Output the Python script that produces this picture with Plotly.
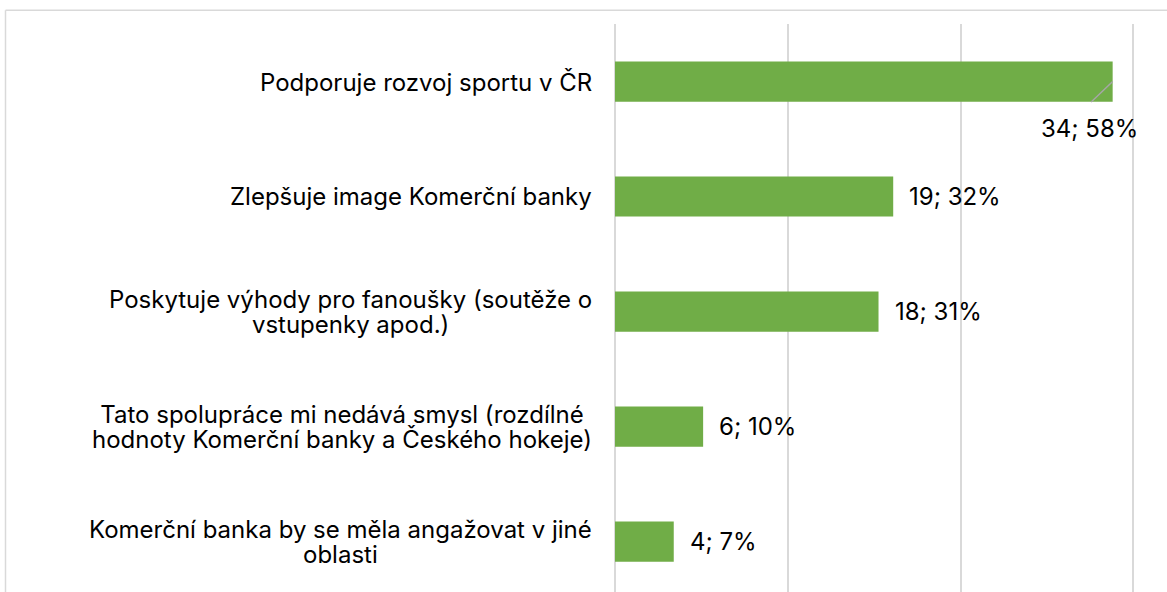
import plotly.graph_objects as go

categories = [
    "Podporuje rozvoj sportu v ČR",
    "Zlepšuje image Komerční banky",
    "Poskytuje výhody pro fanoušky (soutěže o<br>vstupenky apod.)",
    "Tato spolupráce mi nedává smysl (rozdílné<br>hodnoty Komerční banky a Českého hokeje)",
    "Komerční banka by se měla angažovat v jiné<br>oblasti",
]
counts = [34, 19, 18, 6, 4]
percent_values = [57.6, 32.2, 30.5, 10.2, 6.8]
percent_labels = [58, 32, 31, 10, 7]

GREEN = "#70AD47"
GRID = "#D9D9D9"
FONT = "Inter, Roboto, 'Open Sans', sans-serif"
FS = 24
LINE = 25  # line pitch of the wrapped category labels

W, H = 1167, 592
ML, MT = 615, 24
plot_w = W - ML
plot_h = H - MT

pos = list(range(len(categories)))

fig = go.Figure()
fig.add_trace(go.Bar(
    x=percent_values, y=pos, orientation="h",
    marker=dict(color=GREEN, line=dict(width=0)),
    width=0.35, hoverinfo="skip",
))

font = dict(family=FONT, size=FS, color="#000000")
# annotation font sized so that plotly's 1.3em line pitch equals LINE px;
# the glyphs themselves are rendered at FS px through an inline span
label_font = dict(family=FONT, size=LINE / 1.3, color="#000000")

annotations = []
for i, (c, v, n, p) in enumerate(zip(categories, percent_values, counts, percent_labels)):
    styled = "<br>".join(
        f'<span style="font-size:{FS}px">{ln}</span>' for ln in c.split("<br>")
    )
    annotations.append(dict(
        xref="paper", x=0, y=i, yref="y", text=styled, showarrow=False,
        xanchor="right", yanchor="middle", align="center", xshift=-21,
        font=label_font,
    ))
    label = f"{n}; {p}%"
    if i == 0:
        # leader line from the bar end to the callout label
        annotations.append(dict(
            x=v, y=i, xref="x", yref="y", text="", showarrow=True,
            arrowhead=0, arrowwidth=1.5, arrowcolor="#A6A6A6",
            ax=-23, ay=22, standoff=0,
        ))
        annotations.append(dict(
            x=v, y=i, xref="x", yref="y", text=label, showarrow=False,
            xanchor="center", yanchor="middle", xshift=-23, yshift=-47, font=font,
        ))
    else:
        annotations.append(dict(
            x=v, y=i, xref="x", yref="y", text=label, showarrow=False,
            xanchor="left", yanchor="middle", xshift=14, font=font,
        ))

fx = (5.5 - ML) / plot_w
fy = 1 + (MT - 10.3) / plot_h
shapes = [
    dict(type="line", xref="paper", yref="paper", x0=fx, x1=fx, y0=-0.1, y1=fy,
         line=dict(color=GRID, width=1.5), layer="above"),
    dict(type="line", xref="paper", yref="paper", x0=fx, x1=1.2, y0=fy, y1=fy,
         line=dict(color=GRID, width=1.5), layer="above"),
]

x_max = plot_w / 8.64
y_bottom = -0.5 + plot_h / 115.0

fig.update_layout(
    width=W, height=H,
    margin=dict(l=ML, r=0, t=MT, b=0, pad=0),
    paper_bgcolor="white", plot_bgcolor="white",
    showlegend=False,
    font=font,
    xaxis=dict(range=[0, x_max], tickvals=[0, 20, 40, 60], showticklabels=False,
               showgrid=True, gridcolor=GRID, gridwidth=1.5,
               zeroline=True, zerolinecolor=GRID, zerolinewidth=1.5,
               showline=False, fixedrange=True),
    yaxis=dict(range=[y_bottom, -0.5], showticklabels=False, showgrid=False,
               zeroline=False, showline=False, fixedrange=True),
    annotations=annotations,
    shapes=shapes,
)

fig.write_html(
    "out.html",
    config={"displayModeBar": False},
    post_script="document.body.style.margin='0';document.body.style.overflow='hidden';",
)
